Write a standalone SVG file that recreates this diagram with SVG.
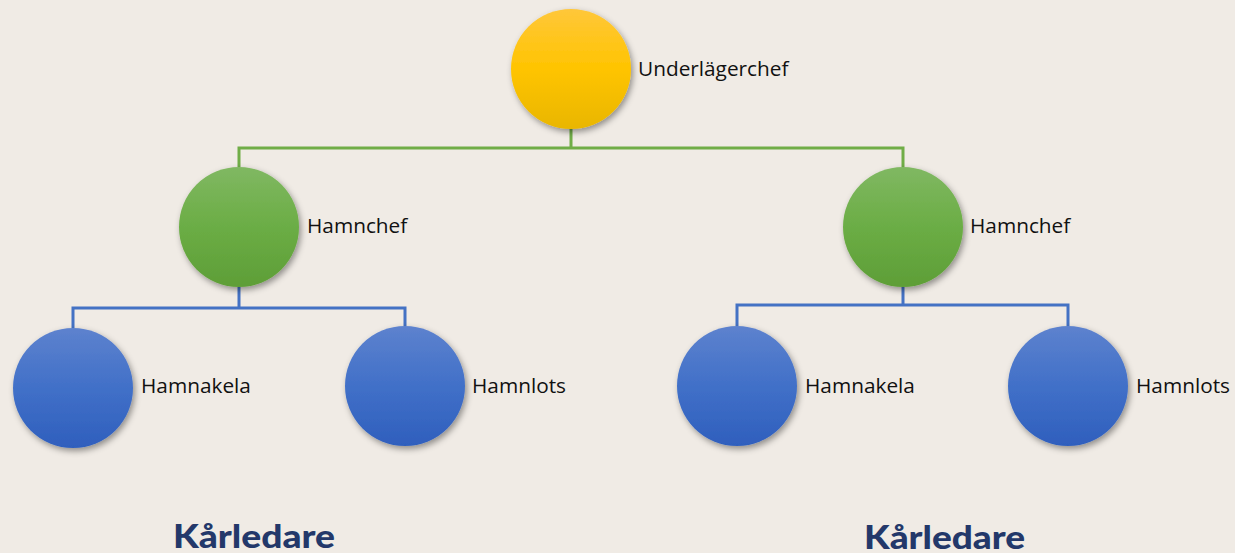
<svg xmlns="http://www.w3.org/2000/svg" width="1235" height="553" viewBox="0 0 1235 553">
<style>
.lbl{font-family:"Open Sans","Liberation Sans",sans-serif;font-size:20.8px;fill:#111}
.kar{font-family:Lato,"Liberation Sans",sans-serif;font-weight:900;font-size:33px;fill:#23386A}
.g{stroke:#70AD47;stroke-width:3;fill:none}
.b{stroke:#4472C4;stroke-width:3;fill:none}
</style>
<defs>
<linearGradient id="gy" x1="0" y1="0" x2="0" y2="1"><stop offset="0" stop-color="#FFC73A"/><stop offset="0.5" stop-color="#FFC400"/><stop offset="1" stop-color="#E9B600"/></linearGradient>
<linearGradient id="gg" x1="0" y1="0" x2="0" y2="1"><stop offset="0" stop-color="#80B862"/><stop offset="0.5" stop-color="#6BAD45"/><stop offset="1" stop-color="#5E9E37"/></linearGradient>
<linearGradient id="gb" x1="0" y1="0" x2="0" y2="1"><stop offset="0" stop-color="#5D82CE"/><stop offset="0.5" stop-color="#4170C8"/><stop offset="1" stop-color="#2F5FBD"/></linearGradient>
<filter id="sh" x="-20%" y="-20%" width="150%" height="150%"><feDropShadow dx="2" dy="3" stdDeviation="3" flood-color="#000" flood-opacity="0.4"/></filter>
</defs>
<rect width="1235" height="553" fill="#F0EBE5"/>
<g id="connectors">
<path class="g" d="M571 129V148M239 167V148H903V167"/>
<path class="b" d="M239 287V308M73 328V308H405V326"/>
<path class="b" d="M903 287V305M737 326V305H1068V326"/>
</g>
<g id="n-underlagerchef"><circle cx="571" cy="69" r="60" fill="url(#gy)" filter="url(#sh)"/><text class="lbl" x="638" y="76">Underlägerchef</text></g>
<g id="n-hamnchef-1"><circle cx="239" cy="227" r="60" fill="url(#gg)" filter="url(#sh)"/><text class="lbl" x="307" y="233">Hamnchef</text></g>
<g id="n-hamnchef-2"><circle cx="903" cy="227" r="60" fill="url(#gg)" filter="url(#sh)"/><text class="lbl" x="970" y="233">Hamnchef</text></g>
<g id="n-hamnakela-1"><circle cx="73" cy="388" r="60" fill="url(#gb)" filter="url(#sh)"/><text class="lbl" x="141" y="393">Hamnakela</text></g>
<g id="n-hamnlots-1"><circle cx="405" cy="386" r="60" fill="url(#gb)" filter="url(#sh)"/><text class="lbl" x="472" y="393">Hamnlots</text></g>
<g id="n-hamnakela-2"><circle cx="737" cy="386" r="60" fill="url(#gb)" filter="url(#sh)"/><text class="lbl" x="805" y="393">Hamnakela</text></g>
<g id="n-hamnlots-2"><circle cx="1068" cy="386" r="60" fill="url(#gb)" filter="url(#sh)"/><text class="lbl" x="1136" y="393">Hamnlots</text></g>
<text class="kar" x="173" y="548" textLength="162" lengthAdjust="spacingAndGlyphs">Kårledare</text>
<text class="kar" x="864" y="549" textLength="161" lengthAdjust="spacingAndGlyphs">Kårledare</text>
</svg>
